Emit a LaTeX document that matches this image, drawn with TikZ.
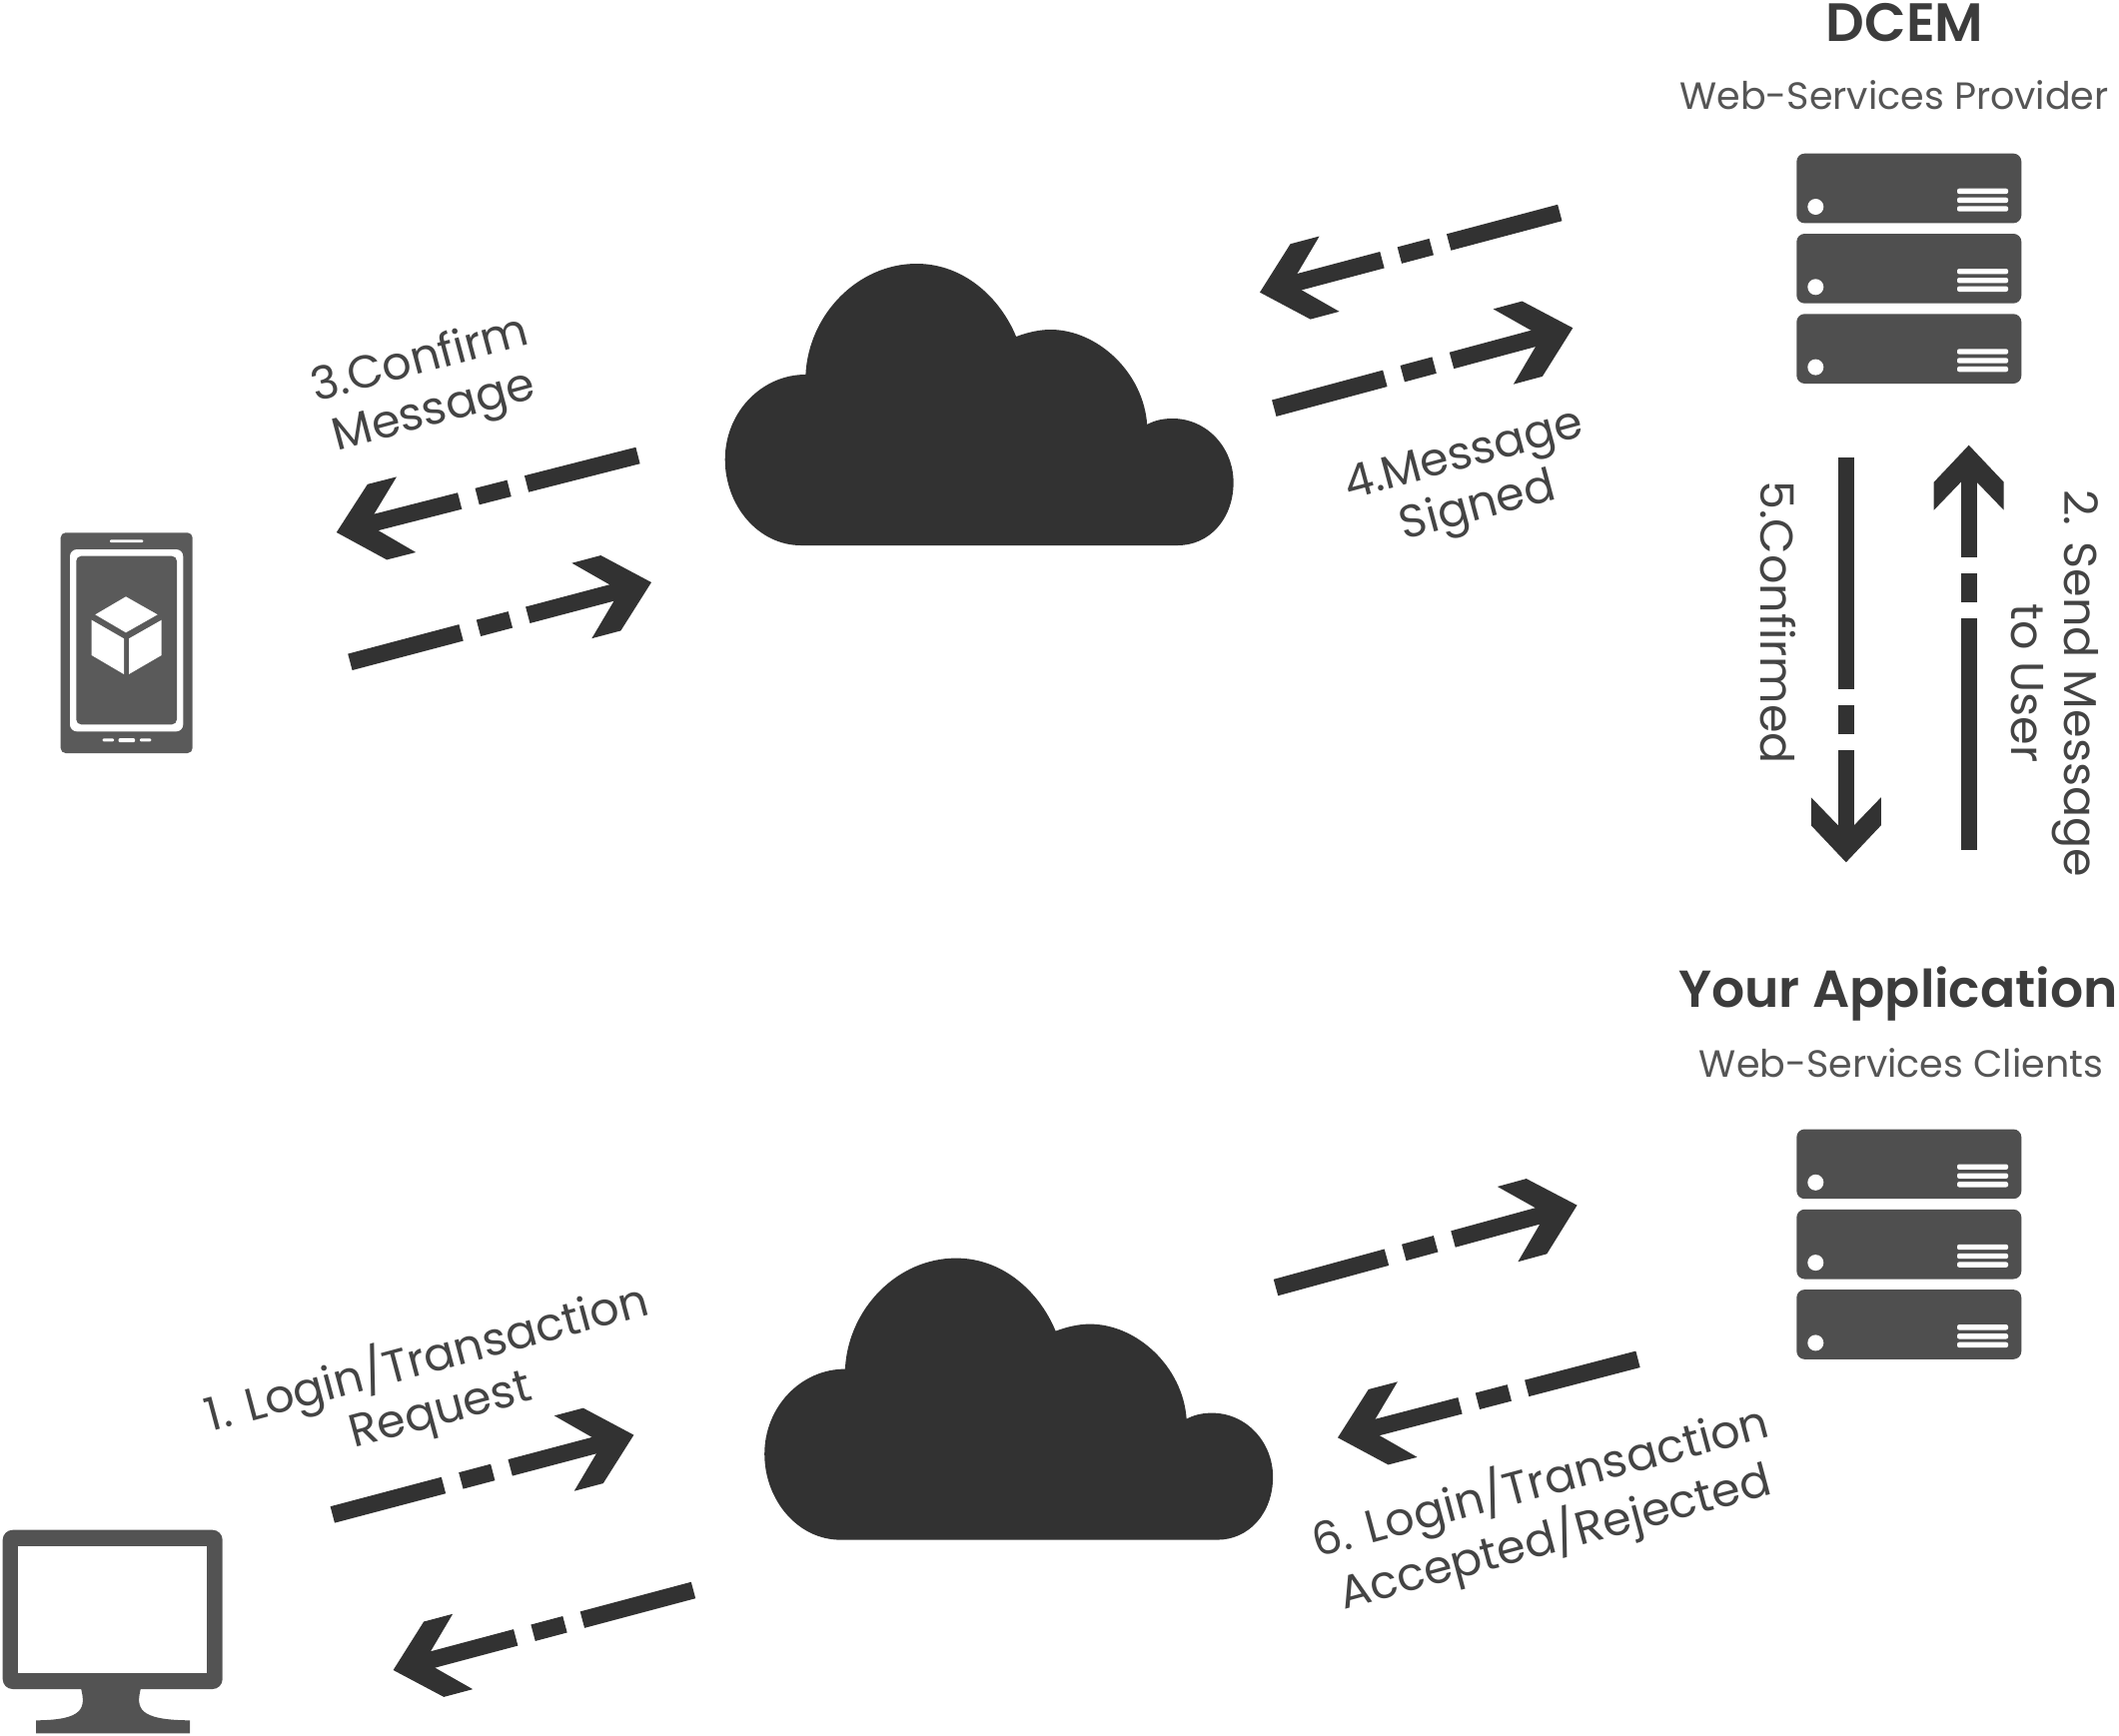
\documentclass[tikz,border=0pt]{standalone}
\usepackage{fontspec}
\setmainfont{Poppins}
\newfontfamily\titlefont{Poppins SemiBold}
\usetikzlibrary{decorations.markings}
\definecolor{flowcol}{HTML}{323232}
\definecolor{servercol}{HTML}{4F4F4F}
\definecolor{phonecol}{HTML}{5A5A5A}
\definecolor{monitorcol}{HTML}{535353}
\definecolor{titlecol}{HTML}{3C3C3C}
\definecolor{subcol}{HTML}{555555}
\definecolor{labelcol}{HTML}{444444}
\tikzset{
  x=1pt,y=-1pt,
  flowslant/.style={draw=flowcol,line width=17pt,shorten >=32pt,
    dash pattern=on 115pt off 18pt on 33pt off 18pt on 400pt,
    postaction={decorate,decoration={markings,mark=at position 1 with {
      \fill[flowcol] (0,0)--(-42,-39)--(-72,-39)--(-41,-8.5)--(-41,8.5)--(-72,39)--(-42,39)--cycle;}}}},
  flowupright/.style={draw=flowcol,line width=16pt,shorten >=30pt,
    dash pattern=on 232pt off 16pt on 29pt off 16pt on 400pt,
    postaction={decorate,decoration={markings,mark=at position 1 with {
      \fill[flowcol] (0,0)--(-37,-35)--(-65,-35)--(-37,-8)--(-37,8)--(-65,35)--(-37,35)--cycle;}}}},
  titletext/.style={font=\titlefont\fontsize{52}{60}\selectfont,text=titlecol,inner sep=0pt,anchor=base},
  subtext/.style={font=\fontsize{38}{46}\selectfont,text=subcol,inner sep=0pt,anchor=base},
  steptext/.style={font=\fontsize{46}{53}\selectfont,text=labelcol,inner sep=0pt,align=center},
  cloudpic/.pic={
    \begin{scope}[xscale=1.0714]
    \fill[flowcol] (95,306) .. controls (55,306) and (24,266) .. (24,220)
      .. controls (24,173) and (58,135) .. (99.3,135)
      .. controls (102,75) and (148,24) .. (203,24)
      .. controls (247,24) and (281,58) .. (296,97)
      .. controls (306,93) and (317,90) .. (328,90)
      .. controls (372,90) and (415,133) .. (418.3,185)
      .. controls (425,181) and (433,179) .. (442,179)
      .. controls (474,179) and (499,208) .. (499,243)
      .. controls (499,280) and (476,306) .. (447,306) -- cycle;
    \end{scope}
  },
  serverunit/.pic={
    \fill[servercol,rounded corners=8pt] (0,0) rectangle (225,69.7);
    \fill[white] (19,53.3) circle (8);
    \foreach \yy in {37.7,46.7,55.3}
      \fill[white,rounded corners=2pt] (160.7,\yy-2.7) rectangle (211.7,\yy+2.7);
  },
  serverstack/.pic={
    \pic at (0,0) {serverunit};
    \pic at (0,80.3) {serverunit};
    \pic at (0,160.6) {serverunit};
  },
}
\begin{document}
\begin{tikzpicture}
\useasboundingbox (0,0) rectangle (2121,1738);
\fill[white] (0,0) rectangle (2121,1738);

% clouds
\pic (cloudtop) at (700,240) {cloudpic};
\pic (cloudbottom) at (739.5,1235.6) {cloudpic};

% servers
\pic (servertop) at (1798.3,153.7) {serverstack};
\pic (serverbottom) at (1798.3,1130.5) {serverstack};

% phone
\fill[phonecol,rounded corners=5pt] (60.7,533.3) rectangle (192.7,754);
\fill[white,rounded corners=7pt] (70,550) rectangle (183.3,732.3);
\fill[phonecol,rounded corners=5pt] (76.3,556.7) rectangle (177,725.3);
\fill[white,rounded corners=1pt] (110,540.4) rectangle (143.3,543);
\fill[white,rounded corners=1pt] (102.7,739.4) rectangle (114,742.4);
\fill[white,rounded corners=1pt] (118.7,739.2) rectangle (135,743);
\fill[white,rounded corners=1pt] (140,739.4) rectangle (151.3,742.4);
\fill[white] (126,597.3)--(157.7,615.3)--(126,633.3)--(95.3,615.3)--cycle;
\fill[white] (91.7,620.7)--(124,639.3)--(124,675)--(91.7,656)--cycle;
\fill[white] (129,639.3)--(161.7,620.7)--(161.7,656)--(129,675)--cycle;

% monitor
\fill[monitorcol,rounded corners=10pt] (2.7,1531.7) rectangle (222.7,1691);
\fill[white] (18.3,1547.7) rectangle (206.7,1674.7);
\fill[monitorcol] (81,1690) .. controls (86,1710) and (84,1722) .. (36,1722.3)
  -- (36,1735.3) -- (190,1735.3) -- (190,1722.3)
  .. controls (138,1722) and (136,1710) .. (141,1690) -- cycle;

% arrow ends
\coordinate (phoneOutTail) at (638.5,456);
\coordinate (phoneOutTip) at (336.8,533);
\coordinate (phoneInTail) at (350.4,662.8);
\coordinate (phoneInTip) at (652,583);
\coordinate (dcemOutTail) at (1561.3,213);
\coordinate (dcemOutTip) at (1261,292.7);
\coordinate (dcemInTail) at (1275.3,408.7);
\coordinate (dcemInTip) at (1574.3,328.3);
\coordinate (appInTail) at (1277,1289);
\coordinate (appInTip) at (1578.6,1206.6);
\coordinate (appOutTail) at (1639.5,1360.8);
\coordinate (appOutTip) at (1339,1439.3);
\coordinate (pcOutTail) at (332.8,1516.4);
\coordinate (pcOutTip) at (634.4,1436.6);
\coordinate (pcInTail) at (694,1592);
\coordinate (pcInTip) at (393.6,1672);
\coordinate (confirmTail) at (1847.8,457.7);
\coordinate (confirmTip) at (1847.8,863.3);
\coordinate (sendTail) at (1970.7,850.7);
\coordinate (sendTip) at (1970.7,445.7);

\draw[flowslant] (phoneOutTail) -- (phoneOutTip);
\draw[flowslant] (phoneInTail) -- (phoneInTip);
\draw[flowslant] (dcemOutTail) -- (dcemOutTip);
\draw[flowslant] (dcemInTail) -- (dcemInTip);
\draw[flowslant] (appInTail) -- (appInTip);
\draw[flowslant] (appOutTail) -- (appOutTip);
\draw[flowslant] (pcOutTail) -- (pcOutTip);
\draw[flowslant] (pcInTail) -- (pcInTip);
\draw[flowupright] (confirmTail) -- (confirmTip);
\draw[flowupright] (sendTail) -- (sendTip);

% titles
\node[titletext,font=\titlefont\fontsize{54}{60}\selectfont] (dcemTitle) at (1906.7,41) {DCEM};
\node[subtext] (dcemSub) at (1896,109) {Web-Services Provider};
\node[titletext] (appTitle) at (1900,1008) {Your Application};
\node[subtext] (appSub) at (1903,1078) {Web-Services Clients};

% step labels
\node[steptext,rotate=15] (stepThree) at (428,388) {3.Confirm\\Message};
\node[steptext,rotate=15] (stepFour) at (1473,484) {4.Message\\Signed};
\node[steptext,rotate=15] (stepOne) at (434,1385) {1. Login/Transaction\\Request};
\node[steptext,rotate=15] (stepSix) at (1549,1511) {6. Login/Transaction\\Accepted/Rejected};
\node[steptext,rotate=-90] (stepFive) at (1780,623) {5.Confirmed};
\node[steptext,rotate=-90] (stepTwo) at (2057,684) {2. Send Message\\to User};
\end{tikzpicture}
\end{document}
